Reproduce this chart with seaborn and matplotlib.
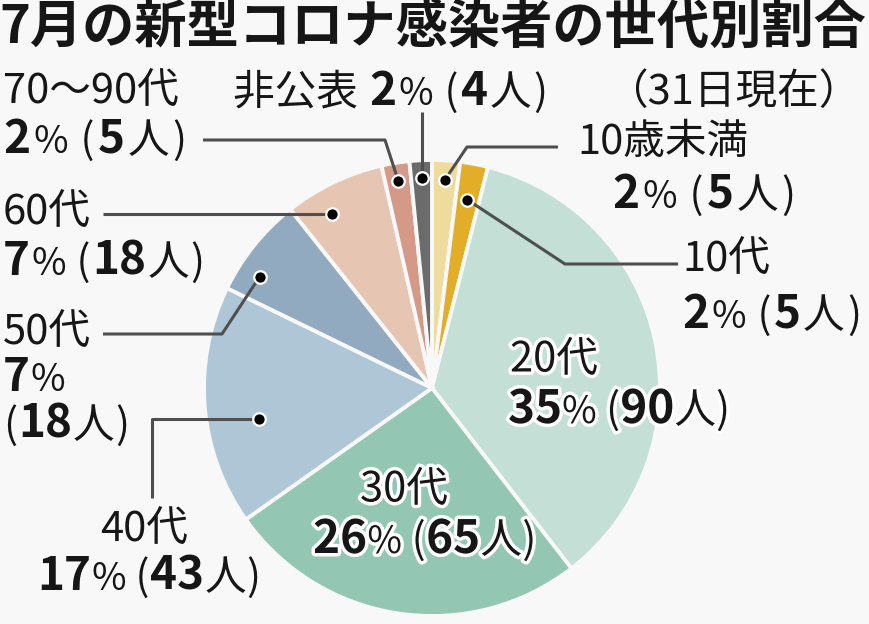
import matplotlib
matplotlib.use("Agg")
import matplotlib.pyplot as plt
import matplotlib.patheffects as pe
from matplotlib.offsetbox import TextArea, HPacker, AnnotationBbox
import numpy as np
import seaborn as sns

# --- data -------------------------------------------------------------
categories = ["10歳未満", "10代", "20代", "30代", "40代", "50代", "60代", "70〜90代", "非公表"]
counts = [5, 5, 90, 65, 43, 18, 18, 5, 4]
percents = [2, 2, 35, 26, 17, 7, 7, 2, 2]
title = "7月の新型コロナ感染者の世代別割合"
subtitle = "（31日現在）"

# --- style ------------------------------------------------------------
sns.set_theme(style="white")
JP = ["Noto Sans CJK JP", "DejaVu Sans"]
plt.rcParams["font.family"] = JP
BG = "#f8f8f8"
INK = "#161616"
LINE = "#4f4f4f"
palette = sns.color_palette(["#eedc9e", "#e2ae2a", "#c3dfd6", "#93c6b3", "#aec6d6",
                             "#91aac0", "#e6c6b3", "#d49a87", "#6b6b6b"])

W, H = 870, 624
fig = plt.figure(figsize=(W / 100, H / 100), dpi=100, facecolor=BG)
ax = fig.add_axes([0, 0, 1, 1])
ax.set_facecolor(BG)

CX, CY, R = 432, H - 388, 228
wedges, _ = ax.pie(counts, colors=palette, startangle=90, counterclock=False,
                   center=(CX, CY), radius=R,
                   wedgeprops=dict(edgecolor=BG, linewidth=2.8))
ax.set_xlim(0, W)
ax.set_ylim(0, H)
ax.set_aspect("equal")
ax.axis("off")


def Y(y):
    return H - y


def anchor(i, frac, rfrac):
    w = wedges[i]
    a = np.deg2rad(w.theta2 - frac * (w.theta2 - w.theta1))
    return CX + rfrac * R * np.cos(a), CY + rfrac * R * np.sin(a)


SIZE = 30        # regular label text
SIZE_NUM = 33    # bold figures
SIZE_PCT = 27    # percent sign


def rich(x, y, parts, halo=False, sep=0.6):
    kids = []
    for s, kind in parts:
        props = dict(color=INK, family=JP)
        if kind == "n":
            props.update(fontsize=SIZE_NUM, fontweight="bold")
        elif kind == "p":
            props.update(fontsize=SIZE_PCT, fontweight="normal")
        else:
            props.update(fontsize=SIZE, fontweight="normal")
        if halo:
            props["path_effects"] = [pe.withStroke(linewidth=5, foreground="white")]
        kids.append(TextArea(s, textprops=props))
    box = HPacker(children=kids, align="baseline", pad=0, sep=sep)
    ab = AnnotationBbox(box, (x, Y(y)), xycoords="data", box_alignment=(0, 0.5),
                        frameon=False, pad=0, annotation_clip=False)
    ax.add_artist(ab)


def count_parts(i, lead=" "):
    return [(lead + "(", "t"), (str(counts[i]), "n"), ("人", "t"), (")", "t")]


def pct_parts(i):
    return [(str(percents[i]), "n"), ("%", "p")] + count_parts(i)


def leader(points, dot):
    xs = [p[0] for p in points] + [dot[0]]
    ys = [Y(p[1]) for p in points] + [dot[1]]
    ax.plot(xs, ys, color=LINE, lw=2.2, solid_capstyle="butt", zorder=4)
    ax.plot([dot[0]], [dot[1]], marker="o", ms=9, color="black",
            mec="white", mew=1.6, zorder=5)


# title
ax.text(-1, Y(1), title, fontsize=37.6, fontweight="bold", color=INK,
        va="top", ha="left", family=JP)
ax.text(606, Y(92), subtitle, fontsize=SIZE, color=INK, va="center", ha="left", family=JP)

# 70〜90代
rich(3, 92, [(categories[7], "t")])
rich(3, 140, pct_parts(7), sep=2.2)
leader([(203, 140), (385, 140)], anchor(7, 0.5, 0.92))

# 非公表
rich(233, 92, [(categories[8] + " ", "t")] + pct_parts(8), sep=1.5)
d = anchor(8, 0.5, 0.92)
leader([(d[0], 112)], d)

# 10歳未満
rich(577, 143, [(categories[0], "t")])
rich(612, 195, pct_parts(0), sep=2.2)
leader([(558, 147), (467, 147)], anchor(0, 0.5, 0.915))

# 10代
rich(682, 260, [(categories[1], "t")])
rich(682, 315, pct_parts(1), sep=1.6)
leader([(678, 264), (565, 264)], anchor(1, 0.5, 0.84))

# 60代
rich(3, 213, [(categories[6], "t")])
rich(3, 262, pct_parts(6), sep=1.0)
d = anchor(6, 0.33, 0.88)
leader([(103, Y(d[1]))], d)

# 50代
rich(3, 333, [(categories[5], "t")])
rich(3, 378, [(str(percents[5]), "n"), ("%", "p")])
rich(3, 425, count_parts(5, lead=""))
leader([(103, 334), (222, 334)], anchor(5, 0.27, 0.9))

# 40代
rich(100, 530, [(categories[4], "t")])
rich(37, 577, pct_parts(4), sep=0.2)
d = anchor(4, 0.41, 0.77)
leader([(152, 498), (152, Y(d[1]))], d)

# 20代 / 30代 inside the pie
rich(510, 360, [(categories[2], "t")], halo=True)
rich(508, 410, pct_parts(2), halo=True, sep=0.0)
rich(360, 490, [(categories[3], "t")], halo=True)
rich(313, 540, pct_parts(3), halo=True, sep=0.2)

fig.savefig("out.png", dpi=100, facecolor=BG)
